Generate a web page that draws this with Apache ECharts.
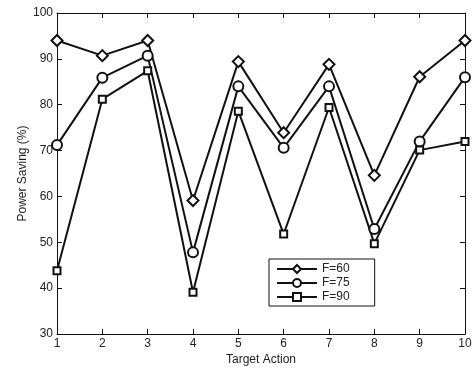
<!DOCTYPE html>
<html>
<head>
<meta charset="utf-8">
<script src="https://cdn.jsdelivr.net/npm/echarts@6/dist/echarts.min.js"></script>
<style>
  html, body { margin: 0; padding: 0; background: #fff; }
  #chart { width: 473px; height: 369px; }
</style>
</head>
<body>
<div id="chart"></div>
<script>
var actions = [1, 2, 3, 4, 5, 6, 7, 8, 9, 10];
var f60 = [94.0, 90.7, 94.0, 59.1, 89.4, 73.9, 88.8, 64.6, 86.1, 94.0];
var f75 = [71.2, 85.9, 90.7, 47.8, 84.0, 70.6, 84.0, 52.9, 72.0, 86.0];
var f90 = [43.8, 81.2, 87.4, 39.1, 78.6, 51.8, 79.4, 49.7, 70.1, 72.0];
var seriesNames = ['F=60', 'F=75', 'F=90'];
var symbols = ['diamond', 'circle', 'rect'];
var symbolSizes = [11, 10, 7];

function pairs(ys) {
    return actions.map(function (x, i) { return [x, ys[i]]; });
}

var black = '#111';
var axisFont = { fontFamily: 'Liberation Sans, Arial, sans-serif', fontSize: 12, color: '#222' };

var seriesData = [f60, f75, f90];
var series = seriesData.map(function (ys, i) {
    return {
        name: seriesNames[i],
        type: 'line',
        xAxisIndex: 0,
        yAxisIndex: 0,
        symbol: symbols[i],
        symbolSize: symbolSizes[i],
        lineStyle: { color: black, width: 2 },
        itemStyle: { color: '#fff', borderColor: black, borderWidth: 2 },
        emphasis: { disabled: true },
        data: pairs(ys)
    };
});

var option = {
    animation: false,
    backgroundColor: '#fff',
    grid: {
        top: 13,
        left: 57,
        right: 8,
        bottom: 35,
        outerBoundsMode: 'none'
    },
    legend: {
        orient: 'vertical',
        left: 269,
        top: 259,
        backgroundColor: '#fff',
        borderColor: black,
        borderWidth: 1,
        borderRadius: 0,
        padding: [4, 25, 3, 7],
        itemGap: 2,
        itemWidth: 40,
        itemHeight: 10,
        textStyle: { fontFamily: 'Liberation Sans, Arial, sans-serif', fontSize: 12, color: '#222' },
        data: seriesNames
    },
    xAxis: [
        {
            type: 'value',
            min: 1,
            max: 10,
            interval: 1,
            name: 'Target Action',
            nameLocation: 'middle',
            nameGap: 20,
            nameMoveOverlap: false,
            nameTextStyle: axisFont,
            axisLine: { lineStyle: { color: black, width: 1 } },
            axisTick: { inside: true, length: 5, lineStyle: { color: black } },
            axisLabel: Object.assign({ margin: 4 }, axisFont),
            splitLine: { show: false }
        },
        {
            type: 'value',
            position: 'top',
            min: 1,
            max: 10,
            interval: 1,
            axisLine: { lineStyle: { color: black, width: 1 } },
            axisTick: { inside: true, length: 5, lineStyle: { color: black } },
            axisLabel: { show: false },
            splitLine: { show: false }
        }
    ],
    yAxis: [
        {
            type: 'value',
            min: 30,
            max: 100,
            interval: 10,
            name: 'Power Saving (%)',
            nameLocation: 'middle',
            nameGap: 28,
            nameMoveOverlap: false,
            nameTextStyle: axisFont,
            axisLine: { show: true, lineStyle: { color: black, width: 1 } },
            axisTick: { show: true, inside: true, length: 5, lineStyle: { color: black } },
            axisLabel: Object.assign({ margin: 4 }, axisFont),
            splitLine: { show: false }
        },
        {
            type: 'value',
            position: 'right',
            min: 30,
            max: 100,
            interval: 10,
            axisLine: { show: true, lineStyle: { color: black, width: 1 } },
            axisTick: { show: true, inside: true, length: 5, lineStyle: { color: black } },
            axisLabel: { show: false },
            splitLine: { show: false }
        }
    ],
    series: series
};

var chart = echarts.init(document.getElementById('chart'));
chart.setOption(option);
</script>
</body>
</html>
